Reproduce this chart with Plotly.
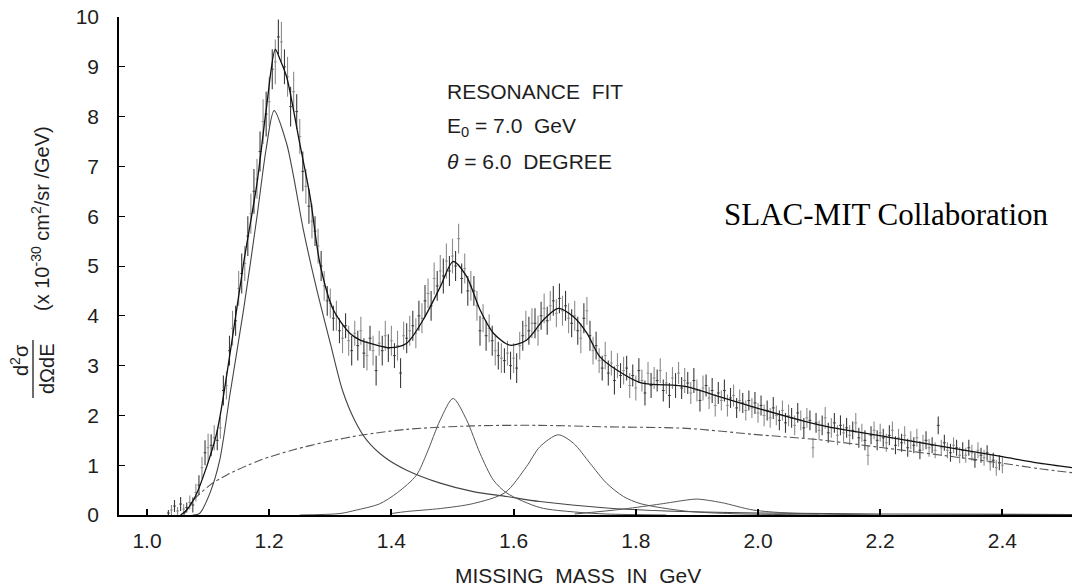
import plotly.graph_objects as go

# ---------------- data ----------------
mass = [
    1.035, 1.040, 1.045, 1.050, 1.055, 1.060, 1.065, 1.070, 1.075, 1.080,
    1.085, 1.090, 1.095, 1.100, 1.105, 1.110, 1.115, 1.120, 1.125, 1.130,
    1.135, 1.140, 1.145, 1.150, 1.155, 1.160, 1.165, 1.170, 1.175, 1.180,
    1.185, 1.190, 1.195, 1.200, 1.205, 1.210, 1.215, 1.220, 1.225, 1.230,
    1.235, 1.240, 1.245, 1.250, 1.255, 1.260, 1.265, 1.270, 1.275, 1.280,
    1.285, 1.290, 1.295, 1.300, 1.305, 1.310, 1.315, 1.320, 1.325, 1.330,
    1.335, 1.340, 1.345, 1.350, 1.355, 1.360, 1.365, 1.370, 1.375, 1.380,
    1.385, 1.390, 1.395, 1.400, 1.405, 1.410, 1.415, 1.420, 1.425, 1.430,
    1.435, 1.440, 1.445, 1.450, 1.455, 1.460, 1.465, 1.470, 1.475, 1.480,
    1.485, 1.490, 1.495, 1.500, 1.505, 1.510, 1.515, 1.520, 1.525, 1.530,
    1.535, 1.540, 1.545, 1.550, 1.555, 1.560, 1.565, 1.570, 1.575, 1.580,
    1.585, 1.590, 1.595, 1.600, 1.605, 1.610, 1.615, 1.620, 1.625, 1.630,
    1.635, 1.640, 1.645, 1.650, 1.655, 1.660, 1.665, 1.670, 1.675, 1.680,
    1.685, 1.690, 1.695, 1.700, 1.705, 1.710, 1.715, 1.720, 1.725, 1.730,
    1.735, 1.740, 1.745, 1.750, 1.755, 1.760, 1.765, 1.770, 1.775, 1.780,
    1.785, 1.790, 1.795, 1.800, 1.805, 1.810, 1.815, 1.820, 1.825, 1.830,
    1.835, 1.840, 1.845, 1.850, 1.855, 1.860, 1.865, 1.870, 1.875, 1.880,
    1.885, 1.890, 1.895, 1.900, 1.905, 1.910, 1.915, 1.920, 1.925, 1.930,
    1.935, 1.940, 1.945, 1.950, 1.955, 1.960, 1.965, 1.970, 1.975, 1.980,
    1.985, 1.990, 1.995, 2.000, 2.005, 2.010, 2.015, 2.020, 2.025, 2.030,
    2.035, 2.040, 2.045, 2.050, 2.055, 2.060, 2.065, 2.070, 2.075, 2.080,
    2.085, 2.090, 2.095, 2.100, 2.105, 2.110, 2.115, 2.120, 2.125, 2.130,
    2.135, 2.140, 2.145, 2.150, 2.155, 2.160, 2.165, 2.170, 2.175, 2.180,
    2.185, 2.190, 2.195, 2.200, 2.205, 2.210, 2.215, 2.220, 2.225, 2.230,
    2.235, 2.240, 2.245, 2.250, 2.255, 2.260, 2.265, 2.270, 2.275, 2.280,
    2.285, 2.290, 2.295, 2.300, 2.305, 2.310, 2.315, 2.320, 2.325, 2.330,
    2.335, 2.340, 2.345, 2.350, 2.355, 2.360, 2.365, 2.370, 2.375, 2.380,
    2.385, 2.390, 2.395, 2.400,
]
sigma = [
    0.04, 0.10, 0.18, 0.08, 0.22, 0.12, 0.15, 0.25, 0.20, 0.45,
    0.60, 0.95, 1.25, 1.35, 1.40, 1.55, 1.50, 1.75, 2.50, 2.60,
    3.30, 3.75, 3.90, 4.55, 4.85, 5.05, 5.60, 6.05, 6.50, 6.75,
    7.30, 7.90, 8.05, 8.30, 8.95, 9.10, 9.60, 9.50, 9.00, 8.80,
    8.20, 8.50, 8.10, 7.60, 6.90, 6.60, 6.20, 5.90, 5.70, 5.40,
    5.00, 4.60, 4.30, 4.25, 3.95, 4.00, 3.70, 3.55, 3.80, 3.50,
    3.30, 3.65, 3.40, 3.70, 3.25, 3.20, 3.55, 3.30, 2.90, 3.45,
    3.30, 3.60, 3.35, 3.50, 3.20, 3.40, 2.85, 3.60, 3.55, 3.70,
    3.80, 3.65, 4.00, 3.95, 4.30, 4.45, 4.20, 4.75, 4.60, 4.90,
    4.80, 5.10, 4.90, 5.20, 5.00, 5.55, 4.75, 4.95, 4.50, 4.60,
    4.50, 4.20, 3.70, 3.95, 3.60, 3.75, 3.50, 3.30, 3.20, 3.15,
    3.10, 3.25, 3.00, 3.15, 2.95, 3.40, 3.60, 3.80, 3.70, 3.85,
    3.85, 3.70, 4.00, 4.15, 3.90, 4.20, 4.30, 4.05, 4.35, 4.10,
    4.20, 3.95, 3.85, 4.00, 3.70, 3.55, 3.95, 4.10, 3.60, 3.30,
    3.40, 3.10, 2.95, 3.20, 2.85, 3.05, 2.70, 3.00, 2.80, 2.90,
    2.95, 2.60, 2.80, 2.55, 2.90, 2.70, 2.45, 2.85, 2.60, 2.75,
    2.70, 2.90, 2.50, 2.65, 2.40, 2.75, 2.60, 2.85, 2.55, 2.70,
    2.65, 2.45, 2.70, 2.50, 2.30, 2.55, 2.60, 2.35, 2.50, 2.20,
    2.45, 2.30, 2.50, 2.20, 2.35, 2.40, 2.15, 2.30, 2.25, 2.10,
    2.30, 2.15, 2.25, 2.05, 2.20, 2.00, 2.10, 1.95, 2.15, 2.00,
    1.90, 2.10, 1.85, 2.00, 1.95, 1.80, 2.05, 1.90, 1.75, 1.95,
    1.90, 1.35, 1.85, 1.70, 1.80, 1.95, 1.65, 1.75, 1.85, 1.60,
    1.80, 1.65, 1.75, 1.60, 1.70, 1.85, 1.55, 1.65, 1.50, 1.20,
    1.60, 1.70, 1.50, 1.65, 1.55, 1.45, 1.60, 1.70, 1.40, 1.55,
    1.45, 1.60, 1.35, 1.50, 1.40, 1.55, 1.30, 1.45, 1.50, 1.35,
    1.40, 1.30, 1.80, 1.35, 1.45, 1.30, 1.25, 1.40, 1.35, 1.20,
    1.30, 1.20, 1.35, 1.25, 1.10, 1.30, 1.20, 1.15, 1.25, 1.05,
    1.10, 0.95, 1.05, 1.00,
]
err = [
    0.06, 0.10, 0.12, 0.08, 0.14, 0.10, 0.10, 0.14, 0.15, 0.18,
    0.20, 0.22, 0.25, 0.28, 0.22, 0.25, 0.20, 0.22, 0.30, 0.28,
    0.30, 0.35, 0.30, 0.35, 0.40, 0.35, 0.40, 0.40, 0.45, 0.40,
    0.40, 0.45, 0.45, 0.50, 0.40, 0.45, 0.35, 0.40, 0.35, 0.40,
    0.40, 0.40, 0.35, 0.35, 0.40, 0.35, 0.35, 0.35, 0.30, 0.35,
    0.30, 0.30, 0.30, 0.30, 0.25, 0.30, 0.25, 0.30, 0.25, 0.30,
    0.30, 0.25, 0.30, 0.28, 0.30, 0.30, 0.25, 0.30, 0.30, 0.25,
    0.30, 0.30, 0.28, 0.30, 0.25, 0.30, 0.30, 0.28, 0.30, 0.30,
    0.30, 0.30, 0.30, 0.30, 0.32, 0.30, 0.30, 0.32, 0.30, 0.32,
    0.35, 0.35, 0.30, 0.35, 0.30, 0.30, 0.30, 0.30, 0.30, 0.30,
    0.30, 0.30, 0.30, 0.28, 0.30, 0.28, 0.30, 0.30, 0.28, 0.30,
    0.25, 0.25, 0.28, 0.30, 0.30, 0.28, 0.30, 0.30, 0.28, 0.30,
    0.30, 0.30, 0.28, 0.30, 0.28, 0.30, 0.30, 0.28, 0.30, 0.30,
    0.30, 0.30, 0.28, 0.30, 0.28, 0.30, 0.30, 0.28, 0.30, 0.28,
    0.28, 0.25, 0.25, 0.28, 0.25, 0.25, 0.28, 0.25, 0.25, 0.28,
    0.25, 0.25, 0.22, 0.25, 0.25, 0.22, 0.25, 0.22, 0.25, 0.22,
    0.22, 0.25, 0.22, 0.22, 0.25, 0.22, 0.25, 0.22, 0.22, 0.25,
    0.22, 0.22, 0.25, 0.22, 0.22, 0.25, 0.22, 0.22, 0.25, 0.22,
    0.22, 0.20, 0.22, 0.22, 0.20, 0.22, 0.20, 0.22, 0.20, 0.20,
    0.20, 0.20, 0.22, 0.20, 0.20, 0.22, 0.20, 0.20, 0.22, 0.20,
    0.20, 0.20, 0.20, 0.22, 0.20, 0.20, 0.20, 0.20, 0.20, 0.20,
    0.20, 0.20, 0.20, 0.20, 0.20, 0.22, 0.20, 0.20, 0.20, 0.20,
    0.20, 0.18, 0.20, 0.20, 0.18, 0.20, 0.20, 0.18, 0.20, 0.20,
    0.18, 0.18, 0.20, 0.18, 0.18, 0.18, 0.20, 0.18, 0.18, 0.18,
    0.18, 0.18, 0.18, 0.18, 0.16, 0.18, 0.18, 0.16, 0.18, 0.18,
    0.16, 0.16, 0.18, 0.16, 0.16, 0.16, 0.18, 0.16, 0.16, 0.16,
    0.16, 0.15, 0.16, 0.16, 0.15, 0.16, 0.15, 0.16, 0.15, 0.16,
    0.15, 0.16, 0.15, 0.16,
]

# total resonance fit
fit_m = [1.055, 1.065, 1.079, 1.092, 1.114, 1.136, 1.158, 1.180, 1.195, 1.210,
         1.218, 1.2285, 1.250, 1.267, 1.283, 1.305, 1.332, 1.349, 1.370, 1.398,
         1.425, 1.452, 1.480, 1.501, 1.523, 1.545, 1.567, 1.594, 1.621, 1.649,
         1.673, 1.698, 1.720, 1.741, 1.769, 1.807, 1.883, 1.938, 1.992, 2.100,
         2.210, 2.320, 2.400, 2.460, 2.514]
fit_v = [0.00, 0.10, 0.37, 0.77, 1.64, 3.25, 5.05, 6.66, 8.13, 9.35,
         9.14, 8.80, 7.46, 6.39, 5.05, 4.12, 3.65, 3.51, 3.43, 3.36,
         3.45, 3.92, 4.58, 5.09, 4.79, 4.12, 3.65, 3.41, 3.51, 3.92,
         4.15, 3.98, 3.65, 3.18, 2.91, 2.66, 2.58, 2.37, 2.17, 1.81,
         1.57, 1.34, 1.17, 1.04, 0.95]
# smooth non-resonant background
bkg_m = [1.060, 1.076, 1.103, 1.130, 1.185, 1.240, 1.294, 1.349, 1.425, 1.534,
         1.643, 1.752, 1.883, 1.992, 2.101, 2.211, 2.320, 2.400, 2.460, 2.514]
bkg_v = [0.00, 0.30, 0.60, 0.80, 1.10, 1.31, 1.47, 1.60, 1.72, 1.79,
         1.80, 1.77, 1.74, 1.62, 1.51, 1.34, 1.17, 1.04, 0.93, 0.85]
# Delta(1236) resonance
d1236_m = [1.075, 1.086, 1.103, 1.119, 1.136, 1.158, 1.180, 1.195, 1.208, 1.2285,
           1.240, 1.256, 1.278, 1.300, 1.320, 1.340, 1.360, 1.390, 1.425, 1.480,
           1.534, 1.589, 1.643, 1.752, 1.850, 2.000, 2.200, 2.514]
d1236_v = [0.00, 0.03, 0.44, 1.10, 2.44, 4.12, 5.99, 7.35, 8.12, 7.46,
           6.79, 5.72, 4.52, 3.45, 2.50, 1.90, 1.50, 1.15, 0.90, 0.64,
           0.47, 0.37, 0.27, 0.14, 0.08, 0.04, 0.02, 0.01]
# second resonance region (~1.51 GeV)
n1520_m = [1.250, 1.316, 1.343, 1.380, 1.410, 1.441, 1.458, 1.480, 1.501, 1.523,
           1.545, 1.567, 1.589, 1.643, 1.700, 1.752, 1.850]
n1520_v = [0.00, 0.03, 0.10, 0.22, 0.45, 0.80, 1.24, 1.91, 2.34, 1.91,
           1.24, 0.70, 0.44, 0.15, 0.06, 0.02, 0.00]
# third resonance region (~1.68 GeV)
n1688_m = [1.400, 1.425, 1.480, 1.534, 1.586, 1.621, 1.643, 1.673, 1.698, 1.725,
           1.752, 1.780, 1.807, 1.880, 1.950, 2.100]
n1688_v = [0.03, 0.07, 0.13, 0.23, 0.45, 0.97, 1.37, 1.61, 1.44, 1.04,
           0.64, 0.37, 0.23, 0.08, 0.03, 0.00]
# fourth resonance region (~1.9 GeV)
n1920_m = [1.700, 1.780, 1.840, 1.883, 1.900, 1.940, 1.992, 2.050, 2.200]
n1920_v = [0.02, 0.12, 0.22, 0.30, 0.32, 0.25, 0.10, 0.04, 0.00]

x_ticks = [1.0, 1.2, 1.4, 1.6, 1.8, 2.0, 2.2, 2.4]
x_ticktext = ["1.0", "1.2", "1.4", "1.6", "1.8", "2.0", "2.2", "2.4"]
y_ticks = [0, 1, 2, 3, 4, 5, 6, 7, 8, 9, 10]

assert len(mass) == len(sigma) == len(err)

# ---------------- layout geometry ----------------
W, H = 1072, 587
L, R, T, B = 119, 0, 17, 72
PW, PH = W - L - R, H - T - B


def px(x):
    return (x - L) / PW


def py(y):
    return (H - B - y) / PH


FONT = "Liberation Sans, Arial, sans-serif"
SERIF = "Liberation Serif, Times New Roman, serif"
INK = "#1e1e1e"

fig = go.Figure()

# data points with error bars (two shades as in the scan)
for sl, col in ((slice(0, None, 2), "#3a3a3a"), (slice(1, None, 2), "#8c8c8c")):
    fig.add_trace(go.Scatter(
        x=mass[sl], y=sigma[sl], mode="markers",
        marker=dict(size=2, color=col, symbol="line-ew",
                    line=dict(width=1, color=col)),
        error_y=dict(type="data", array=err[sl], width=0,
                     thickness=1.1, color=col),
        showlegend=False, hoverinfo="skip"))

curve_style = [
    (bkg_m, bkg_v, dict(color="#555555", width=1.1, dash="dashdot")),
    (d1236_m, d1236_v, dict(color="#444444", width=1.1)),
    (n1520_m, n1520_v, dict(color="#555555", width=1.0)),
    (n1688_m, n1688_v, dict(color="#555555", width=1.0)),
    (n1920_m, n1920_v, dict(color="#555555", width=1.0)),
    (fit_m, fit_v, dict(color="#111111", width=1.3)),
]
for xm, yv, ln in curve_style:
    fig.add_trace(go.Scatter(
        x=xm, y=yv, mode="lines",
        line=dict(shape="spline", smoothing=0.8, **ln),
        showlegend=False, hoverinfo="skip"))

x_lo = 1.0 + (L - 147) / 611.0
x_hi = 1.0 + (W - R - 147) / 611.0

fig.update_layout(
    width=W, height=H,
    margin=dict(l=L, r=R, t=T, b=B, pad=0, autoexpand=False),
    paper_bgcolor="white", plot_bgcolor="white",
    font=dict(family=FONT, size=21, color=INK),
    xaxis=dict(range=[x_lo, x_hi], tickvals=x_ticks, ticktext=x_ticktext,
               ticks="inside", ticklen=6, tickwidth=1.5, tickcolor="black",
               showline=True, linecolor="black", linewidth=2,
               showgrid=False, zeroline=False, automargin=False,
               tickfont=dict(family=FONT, size=21, color=INK),
               ticklabelstandoff=6),
    yaxis=dict(range=[0, 10], tickvals=y_ticks,
               ticks="inside", ticklen=6, tickwidth=1.2, tickcolor="black",
               showline=True, linecolor="black", linewidth=1.5,
               showgrid=False, zeroline=False, automargin=False,
               tickfont=dict(family=FONT, size=21, color=INK),
               ticklabelstandoff=14),
)

ann = []
# legend text block
ann.append(dict(text="RESONANCE\u00a0 FIT", x=px(445), y=py(92)))
ann.append(dict(text="E<sub>0</sub>\u00a0= 7.0\u00a0 GeV", x=px(445), y=py(127)))
ann.append(dict(text="<i>\u03b8</i> = 6.0\u00a0 DEGREE", x=px(445), y=py(162)))
for a in ann:
    a.update(xref="paper", yref="paper", xanchor="left", yanchor="middle",
             showarrow=False, font=dict(family=FONT, size=21, color=INK))

ann.append(dict(text="SLAC-MIT Collaboration", x=px(886), y=py(214),
                xref="paper", yref="paper", xanchor="center", yanchor="middle",
                showarrow=False, font=dict(family=SERIF, size=31, color="black")))
# x-axis title
ann.append(dict(text="MISSING\u00a0 MASS\u00a0 IN\u00a0 GeV", x=px(578), y=py(575),
                xref="paper", yref="paper", xanchor="center", yanchor="middle",
                showarrow=False, font=dict(family=FONT, size=21, color=INK)))
# y-axis title: fraction + units, rotated
ann.append(dict(text="d<sup>2</sup>\u03c3", x=px(19), y=py(360), textangle=-90,
                xref="paper", yref="paper", xanchor="center", yanchor="middle",
                showarrow=False, font=dict(family=FONT, size=20, color=INK)))
ann.append(dict(text="d\u03a9dE", x=px(47), y=py(369), textangle=-90,
                xref="paper", yref="paper", xanchor="center", yanchor="middle",
                showarrow=False, font=dict(family=FONT, size=20, color=INK)))
ann.append(dict(text="(x 10<sup>-30</sup> cm<sup>2</sup>/sr /GeV)", x=px(40), y=py(219),
                textangle=-90,
                xref="paper", yref="paper", xanchor="center", yanchor="middle",
                showarrow=False, font=dict(family=FONT, size=20, color=INK)))
fig.update_layout(annotations=ann)

fig.add_shape(type="line", xref="paper", yref="paper",
              x0=px(33), x1=px(33), y0=py(340), y1=py(398),
              line=dict(color=INK, width=1.3))

fig.write_html("out.html",
               config={"displayModeBar": False},
               post_script="document.body.style.margin='0';"
                           "document.body.style.overflow='hidden';")
